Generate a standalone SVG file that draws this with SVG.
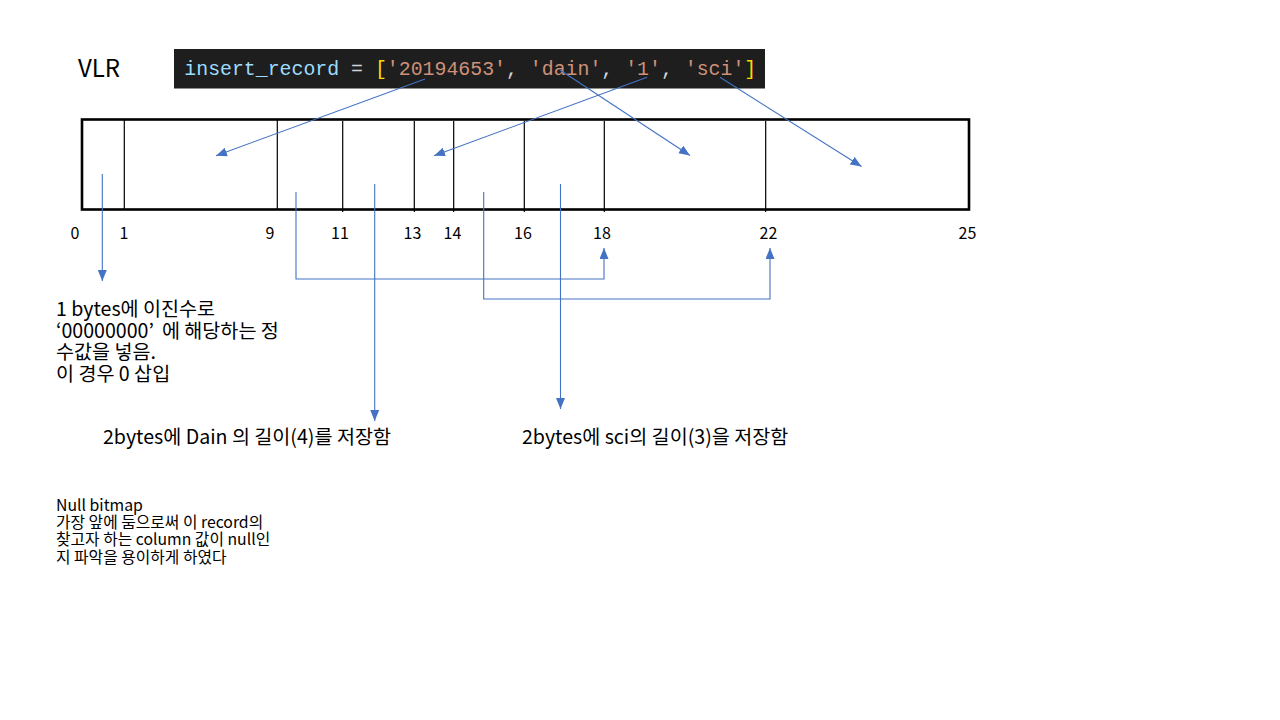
<svg xmlns="http://www.w3.org/2000/svg" width="1280" height="720" viewBox="0 0 1280 720">
<style>
.k{font-family:"Noto Sans CJK KR","Noto Sans",sans-serif;fill:#000}
.n{font-family:"Noto Sans CJK KR","Noto Sans",sans-serif;font-size:16px;fill:#000;text-anchor:middle}
.code{font-family:"Liberation Mono","DejaVu Sans Mono",monospace;font-size:20px}
.c{stroke:#4472c4;stroke-width:1.1;fill:none}
.div{stroke:#000;stroke-width:1.2}
</style>
<defs>
<marker id="ah" markerUnits="userSpaceOnUse" markerWidth="12" markerHeight="10" refX="11" refY="4.5" orient="auto">
<path d="M0,0 L11,4.5 L0,9 z" fill="#4472c4"/>
</marker>
</defs>
<rect width="1280" height="720" fill="#fff"/>

<g id="title">
<text class="k" x="78" y="76.5" font-size="24">VLR</text>
</g>

<g id="code">
<rect x="174" y="49" width="591" height="39.5" fill="#1e1e1e"/>
<text class="code" x="184.3" y="75" textLength="572" lengthAdjust="spacingAndGlyphs"><tspan fill="#9cdcfe">insert_record</tspan><tspan fill="#d4d4d4"> = </tspan><tspan fill="#ffd700">[</tspan><tspan fill="#ce9178">'20194653'</tspan><tspan fill="#d4d4d4">, </tspan><tspan fill="#ce9178">'dain'</tspan><tspan fill="#d4d4d4">, </tspan><tspan fill="#ce9178">'1'</tspan><tspan fill="#d4d4d4">, </tspan><tspan fill="#ce9178">'sci'</tspan><tspan fill="#ffd700">]</tspan></text>
</g>

<g id="record">
<rect x="82" y="119.5" width="887" height="90" fill="none" stroke="#000" stroke-width="2.6"/>
<line class="div" x1="124.3" y1="120" x2="124.3" y2="209"/>
<line class="div" x1="277.3" y1="120" x2="277.3" y2="209"/>
<line class="div" x1="342.7" y1="121" x2="342.7" y2="212"/>
<line class="div" x1="414.3" y1="121" x2="414.3" y2="212"/>
<line class="div" x1="453.7" y1="121" x2="453.7" y2="212"/>
<line class="div" x1="524.3" y1="121" x2="524.3" y2="212"/>
<line class="div" x1="604.3" y1="121" x2="604.3" y2="212"/>
<line class="div" x1="765.7" y1="121" x2="765.7" y2="212"/>
</g>

<g id="offsets">
<text class="n" x="75" y="239">0</text>
<text class="n" x="124" y="239">1</text>
<text class="n" x="270" y="239">9</text>
<text class="n" x="340" y="239">11</text>
<text class="n" x="412.5" y="239">13</text>
<text class="n" x="452.5" y="239">14</text>
<text class="n" x="523" y="239">16</text>
<text class="n" x="602" y="239">18</text>
<text class="n" x="768.5" y="239">22</text>
<text class="n" x="967.5" y="239">25</text>
</g>

<g id="connectors">
<line class="c" x1="425" y1="79" x2="216" y2="155.7" marker-end="url(#ah)"/>
<line class="c" x1="560" y1="70" x2="690" y2="155.5" marker-end="url(#ah)"/>
<line class="c" x1="647" y1="77.3" x2="434" y2="155.7" marker-end="url(#ah)"/>
<line class="c" x1="720" y1="77.3" x2="861.5" y2="166.5" marker-end="url(#ah)"/>
<path class="c" d="M102.3,174 V281" marker-end="url(#ah)"/>
<path class="c" d="M296,192 V279 H604 V248" marker-end="url(#ah)"/>
<path class="c" d="M374.7,184 V421" marker-end="url(#ah)"/>
<path class="c" d="M483.7,192 V299 H770 V248" marker-end="url(#ah)"/>
<path class="c" d="M560.5,184 V409" marker-end="url(#ah)"/>
</g>

<g id="note-bitmap-byte">
<text class="k" font-size="19.6">
<tspan x="56" y="316">1 bytes에 이진수로</tspan>
<tspan x="56" y="337.5">‘00000000’<tspan dx="8">에 해당하는 정</tspan></tspan>
<tspan x="56" y="359">수값을 넣음.</tspan>
<tspan x="56" y="380.5">이 경우 0 삽입</tspan>
</text>
</g>

<g id="note-dain">
<text class="k" x="103" y="444" font-size="19.6">2bytes에 Dain 의 길이(4)를 저장함</text>
</g>

<g id="note-sci">
<text class="k" x="522" y="444" font-size="19.6">2bytes에 sci의 길이(3)을 저장함</text>
</g>

<g id="note-null">
<text class="k" font-size="15.8">
<tspan x="56" y="510.5">Null bitmap</tspan>
<tspan x="56" y="527.8">가장 앞에 둠으로써 이 record의</tspan>
<tspan x="56" y="545.2">찾고자 하는 column 값이 null인</tspan>
<tspan x="56" y="562.6">지 파악을 용이하게 하였다</tspan>
</text>
</g>
</svg>
